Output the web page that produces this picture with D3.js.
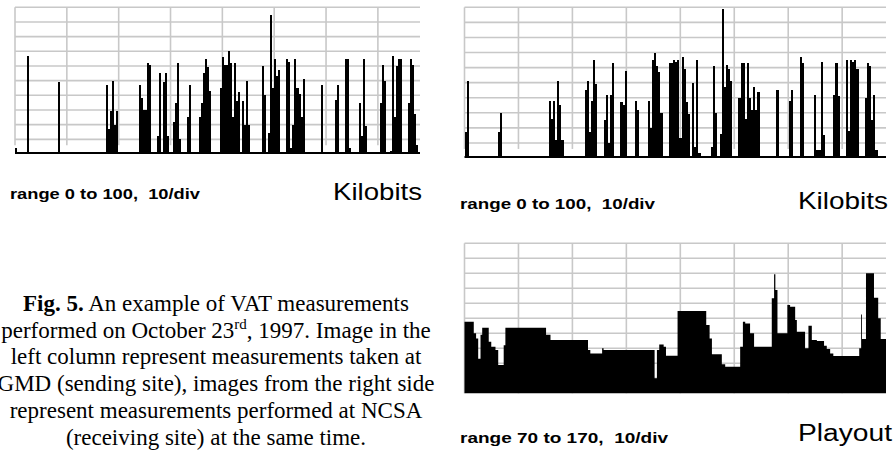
<!DOCTYPE html>
<html>
<head>
  <meta charset="utf-8">
  <script src="https://d3js.org/d3.v7.min.js"></script>
  <style>
    body { margin: 0; background: #ffffff; }
    text.range {
      font-family: "Liberation Sans", Arial, sans-serif;
      font-weight: 700;
      font-size: 14.5px;
      white-space: pre;
    }
    text.unit {
      font-family: "Liberation Sans", Arial, sans-serif;
      font-size: 24px;
    }
    text.caption {
      font-family: "Liberation Serif", "Times New Roman", serif;
      font-size: 23px;
      fill: #000;
    }
    line.grid { stroke: #c8c8c8; stroke-width: 1.6; }
    line.base { stroke: #000000; stroke-width: 2; }
    rect.bar { fill: #000000; shape-rendering: crispEdges; }
    path.playout { fill: #000000; }
  </style>
</head>
<body>
<script>

  // time axis: 200 samples per strip, a vertical division every 25.6 samples
  const sampleCount = 200;
  const divSamples = 25.6;

  // kilobits sent at GMD  [sample, kbit]
  const gmdKbits = [[0,4],[6,67],[21,49],
    [45,47],[46,17],[47,29],[48,50],[49,20],[50,29],
    [61,47],[62,38],[63,30],[64,30],[65,62],[66,61],
    [70,12],[71,55],[73,49],[74,55],[75,12],
    [78,22],[79,35],[80,62],[81,10],
    [85,25],[86,47],
    [91,25],[92,35],[93,55],[94,65],[95,59],[96,43],
    [101,45],[102,66],[103,61],[104,61],[105,70],[106,62],[107,25],[108,62],[109,36],[110,42],
    [112,36],[113,20],[114,50],[115,20],
    [122,60],[123,40],
    [125,14],[126,95],[127,45],[128,65],[129,53],[130,57],
    [134,65],[135,63],[136,4],[137,20],[138,65],[139,45],[140,41],[141,25],[142,51],
    [151,47],[158,37],[159,47],
    [163,65],[164,65],[165,4],
    [170,35],[171,12],[172,65],[173,19],
    [180,35],[181,61],[182,50],
    [185,2],[186,67],[187,25],[188,60],[189,65],[190,65],
    [194,35],[195,65],[196,61],[197,27],[198,6]];

  // kilobits received at NCSA  [sample, kbit]
  const ncsaKbits = [[0,17],[1,51],[16,17],[17,30],
    [40,38],[41,26],[42,38],[43,12],[44,51],[45,35],[46,12],
    [57,45],[58,51],[59,17],[60,38],[61,65],[62,49],
    [66,25],[67,42],[68,10],[69,42],[70,63],
    [74,37],[75,35],[76,58],
    [81,38],[82,32],
    [87,38],[88,20],[89,65],[90,70],[91,61],[92,57],[93,30],
    [97,63],[98,63],[99,65],[100,64],[101,65],[102,13],[103,67],[104,59],[105,37],[106,29],
    [108,50],[109,7],[110,65],[111,3],
    [117,7],[118,61],[119,30],
    [121,16],[122,99],[123,47],[124,62],[125,59],[126,51],
    [130,40],[131,63],[132,63],[133,26],[134,63],[135,40],[136,32],[137,47],[138,32],[139,44],
    [148,45],[154,38],[155,45],
    [159,67],[160,63],
    [166,42],[167,5],[168,5],[169,64],[170,15],
    [175,42],[176,63],[177,41],
    [181,65],[182,18],[183,65],[184,64],[185,65],[186,59],
    [190,40],[191,63],[192,61],[193,25],[194,42],[195,5]];

  // playout at NCSA, step series: value holds from each start sample
  const playoutStart = [0,4.4,5.5,6.5,7.6,8.4,11.5,12.7,14.7,16.0,
    18.6,19.4,38.7,40.8,58.6,59.7,65.3,66.0,90.2,91.3,
    92.4,94.5,95.6,101.1,114.7,116.3,117.4,122.1,123.7,130.8,
    132.1,133.2,135.5,137.4,145.8,146.9,147.5,148.5,153.2,154.5,
    156.9,157.7,161.6,163.2,164.8,167.2,170.6,171.9,173.5,175.0,
    187.3,188.2,188.6,190.5,194.3,196.3,197.5];
  const playoutValue = [117.7,110,106.6,93,109,113.7,104.4,101,98.8,88.8,
    102,113.7,109,105.5,98.8,96.6,100,98.8,80,98.8,
    102.6,101,95,124.8,115.5,106.6,96,89.3,87.7,101,
    117.7,116.6,110,101,133.3,149.3,138.8,110,128.8,127.7,
    118.8,111,100,115,105.5,104.8,101.7,99.5,96.6,94.8,
    100,122.6,106.2,150,133.7,120,106.2];

  const kbitRange = [0, 100];
  const playoutRange = [70, 170];
  const rangeLabels = ["range 0 to 100,  10/div", "range 0 to 100,  10/div", "range 70 to 170,  10/div"];
  const unitLabels = ["Kilobits", "Kilobits", "Playout"];

  const captionLines = [
    [["Fig. 5.", "b"], [" An example of VAT measurements", ""]],
    [["performed on October 23", ""], ["rd", "sup"], [", 1997. Image in the", ""]],
    [["left column represent measurements taken at", ""]],
    [["GMD (sending site), images from the right side", ""]],
    [["represent measurements performed at NCSA", ""]],
    [["(receiving site) at the same time.", ""]]
  ];

  var svg = d3.select("body").append("svg")
    .attr("width", 896)
    .attr("height", 450);

  function grid(g, x, y, domain, vEnd) {
    let rows = d3.range(domain[0] + 10, domain[1] + 1, 10);
    g.selectAll("line.h")
      .data(rows)
      .enter().append("line")
      .attr("class", "grid h")
      .attr("x1", x.range()[0])
      .attr("x2", x.range()[1])
      .attr("y1", d => y(d))
      .attr("y2", d => y(d));

    g.selectAll("line.v")
      .data(d3.range(0, sampleCount, divSamples))
      .enter().append("line")
      .attr("class", "grid v")
      .attr("x1", d => x(d))
      .attr("x2", d => x(d))
      .attr("y1", y(domain[1]))
      .attr("y2", y(vEnd));
  }

  function kbitStrip(data, xr, yr) {
    let g = svg.append("g");
    let x = d3.scaleLinear().domain([0, sampleCount]).range(xr);
    let y = d3.scaleLinear().domain(kbitRange).range(yr);

    grid(g, x, y, kbitRange, 6);

    g.selectAll("rect.bar")
      .data(data)
      .enter().append("rect")
      .attr("class", "bar")
      .attr("x", d => x(d[0]))
      .attr("width", x(1) - x(0))
      .attr("y", d => y(d[1]))
      .attr("height", d => y(0) - y(d[1]));

    g.append("line")
      .attr("class", "base")
      .attr("x1", xr[0]).attr("x2", xr[1])
      .attr("y1", y(0) - 1).attr("y2", y(0) - 1);

    return g;
  }

  function labels(i, rx, ry, rw, ux, uy, uw, usize) {
    svg.append("text")
      .attr("class", "range")
      .attr("x", rx).attr("y", ry)
      .attr("textLength", rw)
      .attr("lengthAdjust", "spacingAndGlyphs")
      .text(rangeLabels[i]);
    svg.append("text")
      .attr("class", "unit")
      .attr("x", ux).attr("y", uy)
      .style("font-size", usize + "px")
      .attr("textLength", uw)
      .attr("lengthAdjust", "spacingAndGlyphs")
      .text(unitLabels[i]);
  }

  // left: GMD, sending site
  kbitStrip(gmdKbits, [15, 420], [154, 7.3]);
  labels(0, 10, 199, 190, 333, 200, 89, 24);

  // right top: NCSA, receiving site
  kbitStrip(ncsaKbits, [464.5, 886], [158, 7.3]);
  labels(1, 460, 209, 195, 798, 208.5, 90, 24);

  // right bottom: playout
  let pg = svg.append("g");
  let px = d3.scaleLinear().domain([0, sampleCount]).range([464.5, 886]);
  let py = d3.scaleLinear().domain(playoutRange).range([393.3, 243.3]);
  grid(pg, px, py, playoutRange, playoutRange[0]);

  let steps = playoutStart.map((t, i) => [t, playoutValue[i]]);
  steps.push([sampleCount, playoutValue[playoutValue.length - 1]]);

  let area = d3.area()
    .curve(d3.curveStepAfter)
    .x(d => px(d[0]))
    .y0(py(playoutRange[0]))
    .y1(d => py(d[1]));

  pg.append("path")
    .attr("class", "playout")
    .attr("d", area(steps));

  labels(2, 460, 443, 208, 798, 441, 94, 23);

  // caption
  let cap = svg.append("text")
    .attr("class", "caption")
    .attr("text-anchor", "middle");

  captionLines.forEach((line, li) => {
    line.forEach((seg, si) => {
      let t = cap.append("tspan").text(seg[0]);
      if (si == 0) t.attr("x", 216).attr("y", 311 + li * 26.7);
      if (seg[1] == "b") t.style("font-weight", 700);
      if (seg[1] == "sup") t.style("font-size", "15px").attr("dy", -9);
      if (si > 0 && line[si - 1][1] == "sup") t.attr("dy", 9);
    });
  });

</script>
</body>
</html>
